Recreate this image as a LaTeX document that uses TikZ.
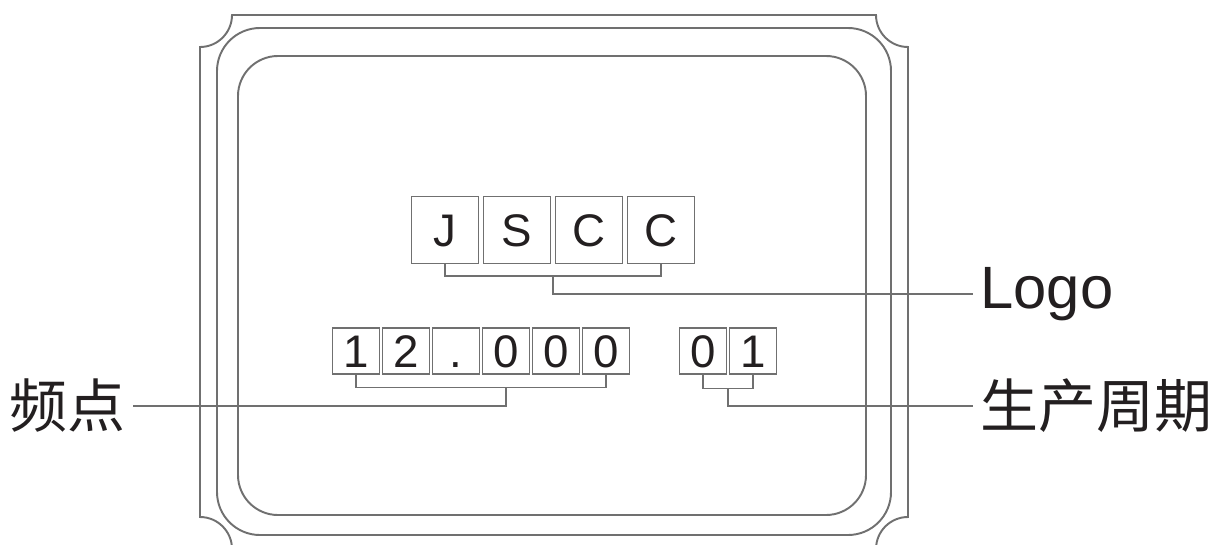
\documentclass[tikz,border=0pt]{standalone}
\usepackage{fontspec}
\setmainfont{Liberation Sans}
\newfontfamily\cjk{Noto Sans CJK SC}
\usetikzlibrary{positioning}
\definecolor{framegray}{HTML}{707070}
\definecolor{inkblack}{HTML}{231F20}
\tikzset{
	frame/.style={draw=framegray, line width=1.1pt},
	digit/.style={draw=framegray, line width=0.8pt, inner sep=0pt, text=inkblack,
		font=\fontsize{26}{26}\selectfont, text height=18.6pt, text depth=0pt},
	bigdigit/.style={digit, minimum width=1.34cm, minimum height=1.34cm},
	smalldigit/.style={digit, minimum width=0.94cm, minimum height=0.92cm},
	lead/.style={draw=framegray, line width=0.8pt},
	tag/.style={inner sep=4pt, text=inkblack},
}

\begin{document}
\begin{tikzpicture}[x=0.02cm, y=-0.02cm]

	\useasboundingbox (0,0) rectangle (1219,544);

	% package outline
	\draw[frame] (232,15) -- (876,15) arc[start angle=180, end angle=270, radius=0.64cm]
		-- (908,517) arc[start angle=90, end angle=180, radius=0.64cm]
		-- (232,549) arc[start angle=0, end angle=90, radius=0.64cm]
		-- (200,47) arc[start angle=270, end angle=360, radius=0.64cm] -- cycle;
	\draw[frame, rounded corners=0.86cm] (217,28) rectangle (891,535);
	\draw[frame, rounded corners=0.8cm] (238,56) rectangle (866,515);

	\node (L1)[bigdigit] at (445,230) {J};
	\node (L2)[bigdigit] at (517,230) {S};
	\node (L3)[bigdigit] at (589,230) {C};
	\node (L4)[bigdigit] at (661,230) {C};

	\node (F1)[smalldigit] at (356,351) {1};
	\node (F2)[smalldigit] at (406,351) {2};
	\node (F3)[smalldigit] at (456,351) {.};
	\node (F4)[smalldigit] at (506,351) {0};
	\node (F5)[smalldigit] at (556,351) {0};
	\node (F6)[smalldigit] at (606,351) {0};

	\node (D1)[smalldigit] at (703,351) {0};
	\node (D2)[smalldigit] at (753,351) {1};

	\node (logo)[tag, anchor=west, font=\fontsize{34}{34}\selectfont] at (973,294) {Logo};
	\node (freq)[tag, anchor=east, font=\cjk\fontsize{33}{33}\selectfont] at (133,406) {频点};
	\node (date)[tag, anchor=west, font=\cjk\fontsize{33}{33}\selectfont] at (973,406) {生产周期};

	\coordinate (logobar) at (553,276);
	\coordinate (freqbar) at (506,387);
	\coordinate (datebar) at (728,388);

	\draw[lead] (L1.south) -- ++(0,12) -| (L4.south);
	\draw[lead] (logobar) |- (logo.west);
	\draw[lead] (F1.south) -- ++(0,13) -| (F6.south);
	\draw[lead] (freqbar) |- (freq.east);
	\draw[lead] (D1.south) -- ++(0,14) -| (D2.south);
	\draw[lead] (datebar) |- (date.west);

\end{tikzpicture}
\end{document}
